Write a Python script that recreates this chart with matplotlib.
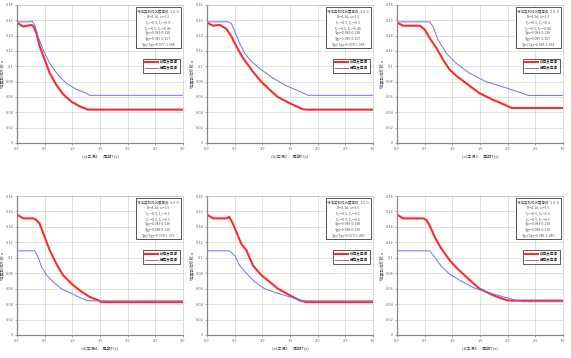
import matplotlib
matplotlib.use("Agg")
import matplotlib.pyplot as plt
import numpy as np

plt.rcParams['font.family'] = ['Noto Sans CJK SC', 'DejaVu Sans']
plt.rcParams['axes.unicode_minus'] = False

# ---- data (period T [s], seismic coefficient) ----
p1_red_x = [0, 0.11, 0.26, 0.29, 0.35, 0.41, 0.5, 0.59, 0.71, 0.83, 0.98, 1.13, 1.28, 3.0]
p1_red_y = [0.157, 0.152, 0.154, 0.153, 0.1435, 0.126, 0.109, 0.0913, 0.076, 0.064, 0.054, 0.048, 0.0435, 0.0435]
p1_blu_x = [0, 0.23, 0.27, 0.32, 0.38, 0.47, 0.59, 0.74, 0.89, 1.07, 1.25, 1.31, 3.0]
p1_blu_y = [0.158, 0.158, 0.159, 0.154, 0.139, 0.122, 0.104, 0.089, 0.078, 0.070, 0.065, 0.0622, 0.0622]

p2_red_x = [0, 0.11, 0.23, 0.35, 0.44, 0.53, 0.65, 0.83, 0.98, 1.13, 1.28, 1.49, 1.73, 1.8, 3.0]
p2_red_y = [0.157, 0.153, 0.154, 0.149, 0.139, 0.126, 0.111, 0.093, 0.080, 0.0696, 0.060, 0.052, 0.044, 0.0435, 0.0435]
p2_blu_x = [0, 0.38, 0.44, 0.5, 0.59, 0.68, 0.8, 0.98, 1.19, 1.43, 1.67, 1.83, 3.0]
p2_blu_y = [0.158, 0.158, 0.156, 0.146, 0.130, 0.117, 0.1065, 0.0957, 0.0848, 0.0748, 0.0674, 0.0622, 0.0622]

p3_red_x = [0, 0.11, 0.41, 0.5, 0.59, 0.71, 0.83, 0.95, 1.07, 1.25, 1.49, 1.73, 1.98, 2.07, 3.0]
p3_red_y = [0.157, 0.153, 0.153, 0.148, 0.137, 0.124, 0.109, 0.0957, 0.0878, 0.078, 0.065, 0.0565, 0.0487, 0.0457, 0.0457]
p3_blu_x = [0, 0.59, 0.65, 0.74, 0.89, 1.07, 1.31, 1.61, 1.98, 2.22, 2.38, 3.0]
p3_blu_y = [0.158, 0.158, 0.152, 0.135, 0.117, 0.104, 0.091, 0.080, 0.0717, 0.066, 0.062, 0.062]

p4_red_x = [0, 0.11, 0.29, 0.35, 0.41, 0.5, 0.59, 0.71, 0.83, 0.98, 1.13, 1.31, 1.49, 1.52, 3.0]
p4_red_y = [0.156, 0.151, 0.151, 0.149, 0.144, 0.127, 0.110, 0.0926, 0.0775, 0.0667, 0.058, 0.0495, 0.0443, 0.0425, 0.0425]
p4_blu_x = [0, 0.32, 0.38, 0.44, 0.53, 0.65, 0.8, 0.98, 1.13, 1.28, 3.0]
p4_blu_y = [0.109, 0.109, 0.101, 0.089, 0.078, 0.069, 0.060, 0.054, 0.0487, 0.0443, 0.0443]

p5_red_x = [0, 0.11, 0.35, 0.40, 0.47, 0.53, 0.62, 0.71, 0.83, 0.98, 1.13, 1.28, 1.49, 1.67, 1.8, 3.0]
p5_red_y = [0.156, 0.151, 0.151, 0.153, 0.144, 0.1335, 0.118, 0.110, 0.090, 0.0775, 0.069, 0.060, 0.0517, 0.045, 0.0425, 0.0425]
p5_blu_x = [0, 0.4, 0.5, 0.59, 0.71, 0.86, 1.04, 1.28, 1.49, 1.73, 3.0]
p5_blu_y = [0.109, 0.109, 0.103, 0.090, 0.080, 0.069, 0.060, 0.054, 0.0495, 0.0443, 0.0443]

p6_red_x = [0, 0.11, 0.47, 0.53, 0.59, 0.68, 0.8, 0.95, 1.07, 1.25, 1.49, 1.73, 1.98, 2.07, 3.0]
p6_red_y = [0.156, 0.151, 0.151, 0.149, 0.142, 0.127, 0.112, 0.097, 0.0874, 0.0754, 0.060, 0.0517, 0.045, 0.0445, 0.0445]
p6_blu_x = [0, 0.59, 0.68, 0.8, 0.95, 1.13, 1.37, 1.61, 1.92, 2.1, 2.28, 3.0]
p6_blu_y = [0.109, 0.109, 0.101, 0.089, 0.079, 0.071, 0.0616, 0.056, 0.0495, 0.046, 0.043, 0.043]

panel_labels = ["(a)工况1", "(b)工况2", "(c)工况3", "(d)工况4", "(e)工况5", "(f)工况6"]
info_texts = [
    ["场地类别和抗震等级: 2.0 Ⅱ", "B=4.1d, ω=1.5", "ξ₁ˣ=0.5, ξ₁ʸ=0.3", "ξ₂ˣ=0.5, ξ₂ʸ=0.46",
     "Tgx=0.083-0.138", "Tgy=0.085-0.157", "Tgx/Tgy=0.977-1.998"],
    ["场地类别和抗震等级: 2.0 Ⅱ", "B=4.1d, ω=1.5", "ξ₁ˣ=0.5, ξ₁ʸ=0.3", "ξ₂ˣ=0.5, ξ₂ʸ=0.46",
     "Tgx=0.083-0.138", "Tgy=0.085-0.157", "Tgx/Tgy=0.978-1.998"],
    ["场地类别和抗震等级: 2.0 Ⅱ", "B=4.1d, ω=1.5", "ξ₁ˣ=0.5, ξ₁ʸ=0.3", "ξ₂ˣ=0.5, ξ₂ʸ=0.46",
     "Tgx=0.083-0.138", "Tgy=0.085-0.157", "Tgx/Tgy=0.985-1.998"],
    ["场地类别和抗震等级: 2.0 Ⅱ", "B=4.1d, ω=1.5", "ξ₁ˣ=0.5, ξ₁ʸ=0.5", "ξ₂ˣ=0.5, ξ₂ʸ=0.5",
     "Tgx=0.083-0.138", "Tgy=0.088-0.110", "Tgx/Tgy=0.978-1.303"],
    ["场地类别和抗震等级: 2.0 Ⅱ", "B=4.1d, ω=1.5", "ξ₁ˣ=0.5, ξ₁ʸ=0.5", "ξ₂ˣ=0.5, ξ₂ʸ=0.5",
     "Tgx=0.083-0.138", "Tgy=0.088-0.110", "Tgx/Tgy=0.973-1.480"],
    ["场地类别和抗震等级: 2.0 Ⅱ", "B=4.1d, ω=1.5", "ξ₁ˣ=0.5, ξ₁ʸ=0.5", "ξ₂ˣ=0.5, ξ₂ʸ=0.5",
     "Tgx=0.083-0.138", "Tgy=0.088-0.110", "Tgx/Tgy=0.981-1.480"],
]
legend_labels = ["纵向反应谱", "横向反应谱"]
x_ticks = [0.0, 0.5, 1.0, 1.5, 2.0, 2.5, 3.0]
x_ticklabels = ["0.0", "0.5", "1.0", "1.5", "2.0", "2.5", "3.0"]
y_ticks = [0, 0.02, 0.04, 0.06, 0.08, 0.1, 0.12, 0.14, 0.16, 0.18]
y_ticklabels = ["0", "0.02", "0.04", "0.06", "0.08", "0.1", "0.12", "0.14", "0.16", "0.18"]
y_label = "地震影响系数 α"
x_unit = "周期T(s)"

reds = [(p1_red_x, p1_red_y), (p2_red_x, p2_red_y), (p3_red_x, p3_red_y),
        (p4_red_x, p4_red_y), (p5_red_x, p5_red_y), (p6_red_x, p6_red_y)]
blues = [(p1_blu_x, p1_blu_y), (p2_blu_x, p2_blu_y), (p3_blu_x, p3_blu_y),
         (p4_blu_x, p4_blu_y), (p5_blu_x, p5_blu_y), (p6_blu_x, p6_blu_y)]

W, H = 571, 358
fig = plt.figure(figsize=(W / 100, H / 100), dpi=100)

col_left = [17, 207, 397]
row_top = [5, 196]
row_bot = [143, 335]
ax_w = 166

for i in range(6):
    r, c = divmod(i, 3)
    l = col_left[c] / W
    b = 1 - row_bot[r] / H
    h = (row_bot[r] - row_top[r]) / H
    ax = fig.add_axes([l, b, ax_w / W, h])
    ax.set_xlim(0, 3.0)
    ax.set_ylim(0, 0.18)
    ax.grid(True, color='#c9dcc0', linewidth=0.5)
    ax.set_axisbelow(True)
    ln1, = ax.plot(reds[i][0], reds[i][1], color='#ff2a2a', linewidth=1.5, label=legend_labels[0])
    ln2, = ax.plot(blues[i][0], blues[i][1], color='#6e6eff', linewidth=0.7, label=legend_labels[1])
    ax.set_xticks(x_ticks)
    ax.set_xticklabels(x_ticklabels)
    ax.set_yticks(y_ticks)
    ax.set_yticklabels(y_ticklabels)
    ax.tick_params(labelsize=2.8, length=1.2, width=0.4, colors='#666666', pad=1.5)
    for s in ['top', 'right']:
        ax.spines[s].set_color('#bbbbbb')
        ax.spines[s].set_linewidth(0.4)
    for s in ['left', 'bottom']:
        ax.spines[s].set_color('#888888')
        ax.spines[s].set_linewidth(0.9)
    ax.set_ylabel(y_label, fontsize=3.0, color='#555555', labelpad=1)
    ax.set_xlabel(panel_labels[i] + "      " + x_unit, fontsize=3.0, color='#444444', labelpad=2)
    ax.text(0.978, 0.972, "\n".join(info_texts[i]), transform=ax.transAxes, ha='right', va='top',
            fontsize=2.5, color='#555555', linespacing=1.55, multialignment='center',
            bbox=dict(boxstyle='square,pad=0.45', facecolor='white', edgecolor='#555555', linewidth=0.7))
    leg = ax.legend(handles=[ln1, ln2], loc='upper right', bbox_to_anchor=(0.992, 0.625),
                    fontsize=2.6, frameon=True, fancybox=False, handlelength=3.6,
                    borderpad=0.55, labelspacing=0.55, handletextpad=0.6, framealpha=1)
    leg.get_frame().set_edgecolor('#444444')
    leg.get_frame().set_linewidth(0.6)

fig.savefig("out.png", dpi=100)
